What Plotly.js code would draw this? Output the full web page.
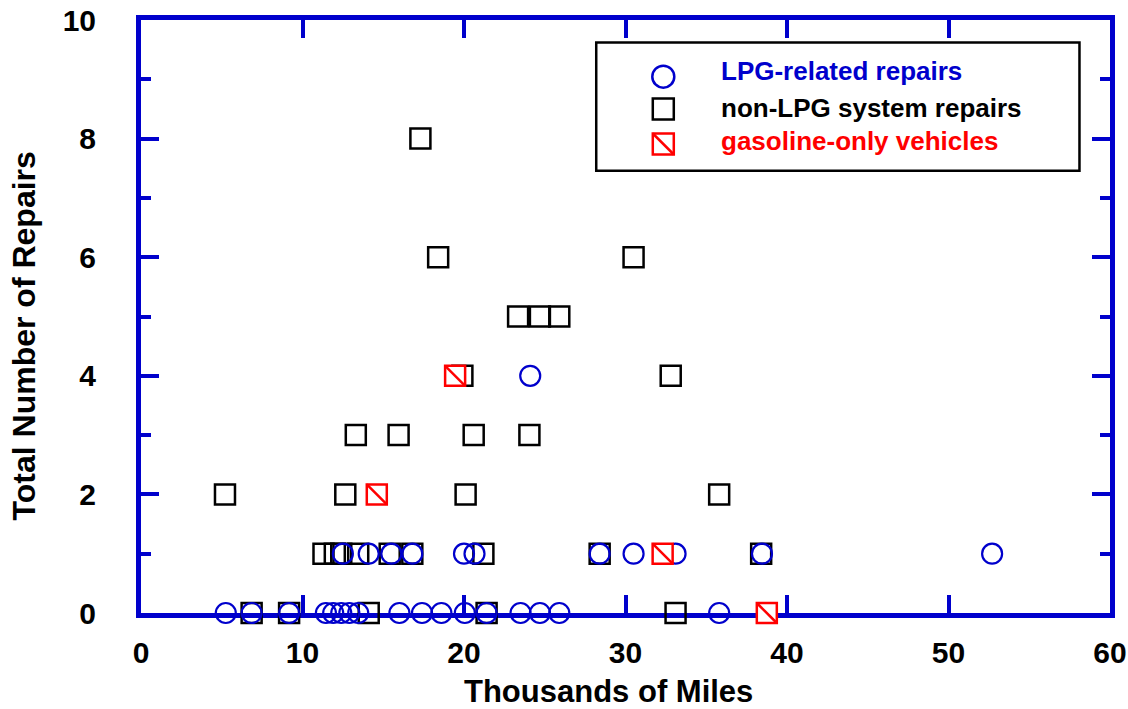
<!DOCTYPE html>
<html>
<head>
<meta charset="utf-8">
<script src="https://cdn.plot.ly/plotly-3.0.1.min.js"></script>
<style>
html,body{margin:0;padding:0;background:#fff;}
#chart{width:1128px;height:709px;}
</style>
</head>
<body>
<div id="chart"></div>
<script>
// ---- data ----
var seriesNames = ["LPG-related repairs", "non-LPG system repairs", "gasoline-only vehicles"];

var lpgMiles = [5.25, 6.85, 9.17, 11.45, 11.9, 12.4, 12.9, 13.45, 16.0, 17.4, 18.6, 20.05, 21.4, 23.5, 24.7, 25.9, 35.8,
                12.5, 14.1, 15.5, 16.8, 20.0, 20.65, 28.4, 30.5, 33.1, 38.45, 52.7,
                24.1];
var lpgRepairs = [0, 0, 0, 0, 0, 0, 0, 0, 0, 0, 0, 0, 0, 0, 0, 0, 0,
                  1, 1, 1, 1, 1, 1, 1, 1, 1, 1, 1,
                  4];

var nonLpgMiles = [6.85, 9.17, 14.1, 21.4, 33.1,
                   11.3, 12.0, 12.4, 13.45, 15.4, 16.8, 21.2, 28.4, 38.4,
                   5.2, 12.65, 20.1, 35.8,
                   13.3, 15.95, 20.6, 24.05,
                   19.9, 32.8,
                   23.35, 24.7, 25.9,
                   18.4, 30.5,
                   17.3];
var nonLpgRepairs = [0, 0, 0, 0, 0,
                     1, 1, 1, 1, 1, 1, 1, 1, 1,
                     2, 2, 2, 2,
                     3, 3, 3, 3,
                     4, 4,
                     5, 5, 5,
                     6, 6,
                     8];

var gasMiles = [38.75, 32.3, 14.6, 19.45];
var gasRepairs = [0, 1, 2, 4];

var xTickVals = [0, 10, 20, 30, 40, 50, 60];
var yTickVals = [0, 2, 4, 6, 8, 10];

// ---- styling ----
var BLUE = "#0000cc";
var RED = "#ff0000";
var FONT = "Liberation Sans, Arial, Helvetica, sans-serif";

var traces = [
  {
    x: nonLpgMiles, y: nonLpgRepairs, type: "scatter", mode: "markers",
    name: seriesNames[1], showlegend: false, cliponaxis: false,
    marker: {symbol: "square-open", size: 20, color: "#000", line: {width: 2.5, color: "#000"}}
  },
  {
    x: lpgMiles, y: lpgRepairs, type: "scatter", mode: "markers",
    name: seriesNames[0], showlegend: false, cliponaxis: false,
    marker: {symbol: "circle-open", size: 20, color: BLUE, line: {width: 2.2, color: BLUE}}
  },
  {
    x: gasMiles, y: gasRepairs, type: "scatter", mode: "markers",
    name: seriesNames[2], showlegend: false, cliponaxis: false,
    marker: {symbol: "square", size: 20, color: "#fff", line: {width: 2.5, color: RED}}
  },
  {
    x: gasMiles, y: gasRepairs, type: "scatter", mode: "markers",
    name: seriesNames[2], showlegend: false, cliponaxis: false, hoverinfo: "skip",
    marker: {symbol: "line-nw-open", size: 20, color: RED, line: {width: 2.5, color: RED}}
  }
];

// legend (drawn as a framed box with icons and coloured labels)
var legX0 = 0.4698, legX1 = 0.9685, legY0 = 0.7459, legY1 = 0.9621;
var iconX = 0.539;
var rowIconY = [0.9044, 0.8499, 0.7909];
var rowTextY = [0.914, 0.8513, 0.796];
var textX = 0.5968;
var legColors = [BLUE, "#000", RED];

var shapes = [
  {type: "rect", xref: "paper", yref: "paper", x0: legX0, x1: legX1, y0: legY0, y1: legY1,
   line: {color: "#000", width: 2.5}, fillcolor: "rgba(255,255,255,0)", layer: "above"},
  {type: "circle", xref: "paper", yref: "paper", xsizemode: "pixel", ysizemode: "pixel",
   xanchor: iconX, yanchor: rowIconY[0], x0: -11, x1: 11, y0: -11, y1: 11,
   line: {color: BLUE, width: 2.5}},
  {type: "rect", xref: "paper", yref: "paper", xsizemode: "pixel", ysizemode: "pixel",
   xanchor: iconX, yanchor: rowIconY[1], x0: -10.5, x1: 10.5, y0: -10.5, y1: 10.5,
   line: {color: "#000", width: 2.5}},
  {type: "rect", xref: "paper", yref: "paper", xsizemode: "pixel", ysizemode: "pixel",
   xanchor: iconX, yanchor: rowIconY[2], x0: -10.5, x1: 10.5, y0: -10.5, y1: 10.5,
   line: {color: RED, width: 2.5}},
  {type: "line", xref: "paper", yref: "paper", xsizemode: "pixel", ysizemode: "pixel",
   xanchor: iconX, yanchor: rowIconY[2], x0: -10.5, x1: 10.5, y0: 10.5, y1: -10.5,
   line: {color: RED, width: 2.5}}
];

var annotations = [];
for (var i = 0; i < 3; i++) {
  annotations.push({
    xref: "paper", yref: "paper", x: textX, y: rowTextY[i], xanchor: "left", yanchor: "middle",
    text: "<b>" + seriesNames[i] + "</b>", showarrow: false,
    font: {family: FONT, size: 26, color: legColors[i]}
  });
}
// axis titles
annotations.push({
  xref: "paper", yref: "paper", x: 0.4827, y: -0.133, xanchor: "center", yanchor: "middle",
  text: "<b>Thousands of Miles</b>", showarrow: false,
  font: {family: FONT, size: 31, color: "#000"}
});
annotations.push({
  xref: "paper", yref: "paper", x: -0.1198, y: 0.468, xanchor: "center", yanchor: "middle",
  text: "<b>Total Number of Repairs</b>", showarrow: false, textangle: -90,
  font: {family: FONT, size: 32, color: "#000"}
});

var layout = {
  width: 1128, height: 709,
  margin: {l: 141, r: 18, t: 20, b: 96, pad: 0},
  paper_bgcolor: "#fff", plot_bgcolor: "#fff",
  showlegend: false,
  font: {family: FONT, color: "#000"},
  xaxis: {
    range: [0, 60], tickvals: xTickVals, ticktext: xTickVals.map(String),
    showgrid: false, zeroline: false,
    showline: true, linecolor: BLUE, linewidth: 5, mirror: "ticks",
    ticks: "inside", ticklen: 18, tickwidth: 4, tickcolor: BLUE,
    ticklabelstandoff: 9,
    tickfont: {family: FONT, size: 30, color: "#000", weight: "bold"},
    layer: "below traces", fixedrange: true
  },
  yaxis: {
    range: [0, 10], tickvals: yTickVals, ticktext: yTickVals.map(String),
    showgrid: false, zeroline: false,
    showline: true, linecolor: BLUE, linewidth: 5, mirror: "ticks",
    ticks: "inside", ticklen: 18, tickwidth: 4, tickcolor: BLUE,
    minor: {dtick: 1, ticks: "inside", ticklen: 10, tickwidth: 4, tickcolor: BLUE, showgrid: false},
    ticklabelstandoff: 34,
    tickfont: {family: FONT, size: 30, color: "#000", weight: "bold"},
    layer: "below traces", fixedrange: true
  },
  shapes: shapes,
  annotations: annotations
};

Plotly.newPlot("chart", traces, layout, {displayModeBar: false, staticPlot: true});
</script>
</body>
</html>
